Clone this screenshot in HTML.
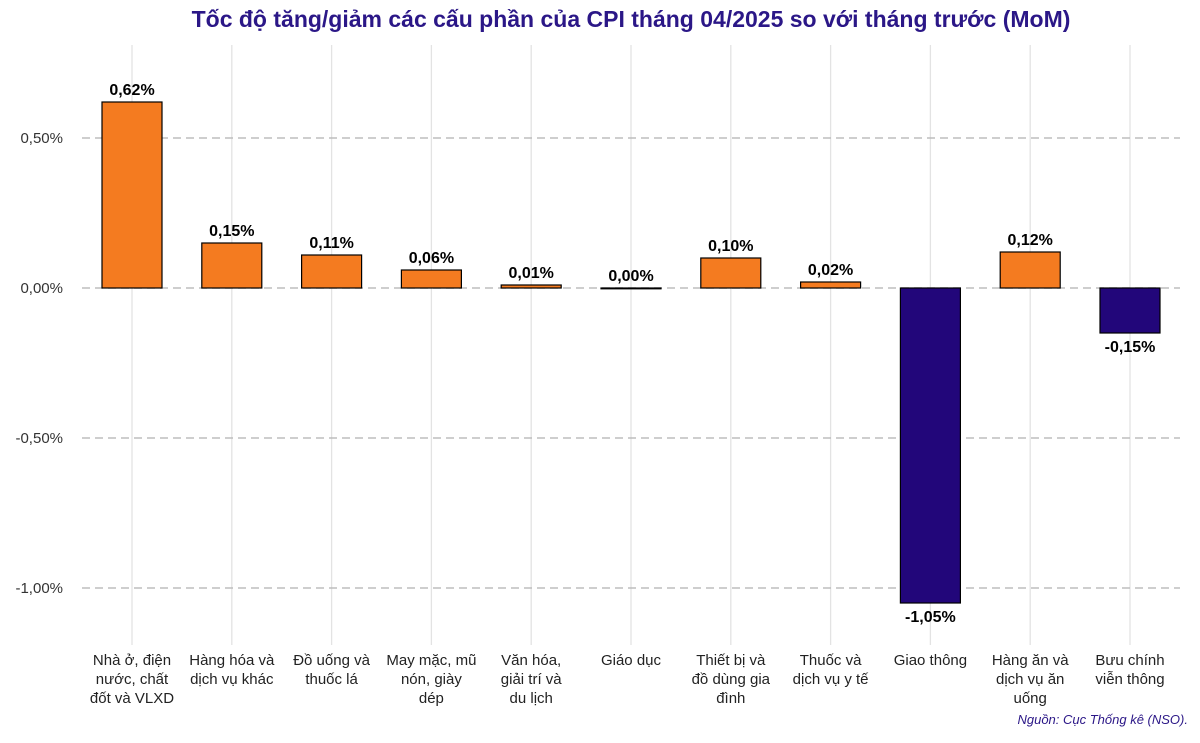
<!DOCTYPE html>
<html><head><meta charset="utf-8"><style>
body{margin:0;background:#fff;}
svg text{font-family:"Liberation Sans",sans-serif;}
</style></head><body>
<svg id="chart" width="1200" height="738" viewBox="0 0 1200 738" xmlns="http://www.w3.org/2000/svg">
<text x="631" y="27" text-anchor="middle" font-size="23" font-weight="bold" fill="#2b1787">Tốc độ tăng/giảm các cấu phần của CPI tháng 04/2025 so với tháng trước (MoM)</text>
<g id="grid"></g><g id="bars"></g><g id="labels"></g>
<text x="1188" y="724" text-anchor="end" font-size="13" font-style="italic" fill="#2b1787">Nguồn: Cục Thống kê (NSO).</text>
</svg>
<script>
const categories=[["Nhà ở, điện","nước, chất","đốt và VLXD"],["Hàng hóa và","dịch vụ khác"],["Đồ uống và","thuốc lá"],["May mặc, mũ","nón, giày","dép"],["Văn hóa,","giải trí và","du lịch"],["Giáo dục"],["Thiết bị và","đồ dùng gia","đình"],["Thuốc và","dịch vụ y tế"],["Giao thông"],["Hàng ăn và","dịch vụ ăn","uống"],["Bưu chính","viễn thông"]];
const values=[0.62,0.15,0.11,0.06,0.01,0.00,0.10,0.02,-1.05,0.12,-0.15];
const yTicks=[0.5,0,-0.5,-1];
const yTickLabels=["0,50%","0,00%","-0,50%","-1,00%"];
const NS="http://www.w3.org/2000/svg";
const y=v=>288-v*300;
const x=i=>132+i*99.8;
function mk(tag,attrs,parent){const e=document.createElementNS(NS,tag);for(const k in attrs)e.setAttribute(k,attrs[k]);document.getElementById(parent).appendChild(e);return e;}
categories.forEach((c,i)=>{
 const g=mk('line',{x1:x(i),x2:x(i),y1:45,y2:645,stroke:'#e3e3e3','stroke-width':1.3},'grid');
 
 
});
yTicks.forEach((t,i)=>{
 const l=mk('line',{x1:82,x2:1180,y1:y(t),y2:y(t),stroke:'#bdbdbd','stroke-width':1.5,'stroke-dasharray':'8,5'},'grid');
 
 
 const tx=mk('text',{x:63,y:y(t)+5,'text-anchor':'end','font-size':15,fill:'#333'},'labels');
 tx.textContent=yTickLabels[i];
 
 
});
values.forEach((v,i)=>{
 const top=Math.min(y(v),y(0)),h=Math.max(Math.abs(y(v)-y(0)),0.8);
 const r=mk('rect',{x:x(i)-30,y:top,width:60,height:h,fill:v>=0?'#f47b20':'#22067a',stroke:'#000','stroke-width':1.2},'bars');
 
 
 const lab=mk('text',{x:x(i),y:v>=0?y(v)-7:y(v)+19,'text-anchor':'middle','font-size':16,'font-weight':'bold',fill:'#000'},'labels');
 lab.textContent=v.toFixed(2).replace('.',',')+'%';
 
 
 categories[i].forEach((line,j)=>{
  const t=mk('text',{x:x(i),y:665+j*19,'text-anchor':'middle','font-size':15,fill:'#222'},'labels');
  t.textContent=line;
  
  
 });
});
</script>
</body></html>
